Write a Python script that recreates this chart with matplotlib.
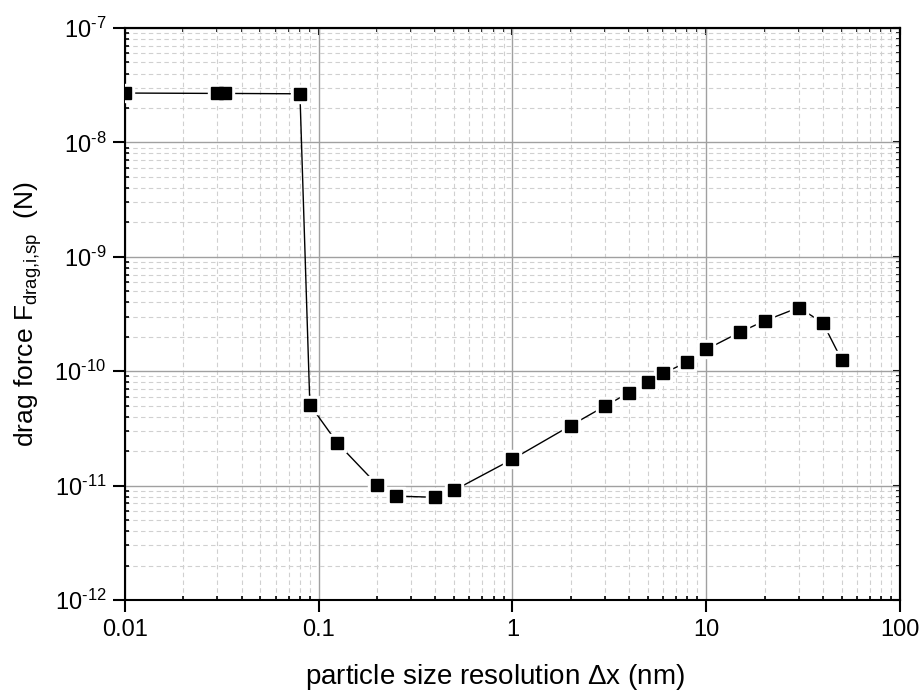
import numpy as np
import matplotlib
matplotlib.use("Agg")
import matplotlib.pyplot as plt
from matplotlib.ticker import LogLocator, NullFormatter, FixedLocator, FuncFormatter

plt.rcParams['font.family'] = ['Liberation Sans', 'DejaVu Sans']
plt.rcParams['mathtext.fontset'] = 'custom'
plt.rcParams['mathtext.rm'] = 'Liberation Sans'
plt.rcParams['mathtext.it'] = 'Liberation Sans:italic'
plt.rcParams['mathtext.default'] = 'regular'

# particle size resolution (nm) and drag force (N)
dx = [0.01, 0.03, 0.033, 0.08, 0.09, 0.125, 0.2, 0.25, 0.4, 0.5,
      1, 2, 3, 4, 5, 6, 8, 10, 15, 20, 30, 40, 50]
force = [2.7e-8, 2.68e-8, 2.68e-8, 2.66e-8, 5.1e-11, 2.35e-11, 1.02e-11, 8.1e-12, 7.9e-12, 9.1e-12,
         1.7e-11, 3.35e-11, 4.95e-11, 6.5e-11, 8.0e-11, 9.6e-11, 1.2e-10, 1.55e-10, 2.2e-10, 2.75e-10,
         3.6e-10, 2.65e-10, 1.26e-10]

x_ticks = [0.01, 0.1, 1, 10, 100]
x_tick_labels = ['0.01', '0.1', '1', '10', '100']


def pow_label(v, pos):
    e = int(round(np.log10(v)))
    return r'10$^{\text{%d}}$' % e


fig = plt.figure(figsize=(9.23, 6.93), dpi=100)
ax = fig.add_axes([0.1354, 0.1342, 0.8396, 0.8254])

ax.set_xscale('log')
ax.set_yscale('log')
ax.set_xlim(0.01, 100)
ax.set_ylim(1e-12, 1e-7)

# grid first so data sits on top
ax.grid(True, which='major', color='#a0a0a0', linewidth=1.0, linestyle='-')
ax.grid(True, which='minor', color='#d0d0d0', linewidth=0.8, linestyle=(0, (4, 3)))
ax.set_axisbelow(True)

ax.plot(dx, force, color='black', linewidth=1.0, zorder=3)
# white halo so the line stops short of each marker
ax.plot(dx, force, linestyle='none', marker='s', markersize=12.5, color='white', zorder=4)
ax.plot(dx, force, linestyle='none', marker='s', markersize=9, color='black', zorder=5)

ax.xaxis.set_major_locator(FixedLocator(x_ticks))
ax.set_xticklabels(x_tick_labels)
ax.xaxis.set_minor_locator(LogLocator(base=10, subs=np.arange(2, 10), numticks=20))
ax.xaxis.set_minor_formatter(NullFormatter())
ax.yaxis.set_major_locator(LogLocator(base=10, numticks=10))
ax.yaxis.set_major_formatter(FuncFormatter(pow_label))
ax.yaxis.set_minor_locator(LogLocator(base=10, subs=np.arange(2, 10), numticks=20))
ax.yaxis.set_minor_formatter(NullFormatter())

ax.tick_params(which='major', direction='out', length=8.5, width=1.5, labelsize=17, pad=5)
ax.tick_params(which='minor', direction='in', length=3, width=1.2)

for s in ax.spines.values():
    s.set_linewidth(1.5)

# top and right ticks point inward
top = ax.secondary_xaxis('top')
top.set_xscale('log')
top.xaxis.set_major_locator(FixedLocator(x_ticks))
top.xaxis.set_minor_locator(LogLocator(base=10, subs=np.arange(2, 10), numticks=20))
top.tick_params(which='both', direction='in', labeltop=False)
top.tick_params(which='major', length=5, width=1.5)
top.tick_params(which='minor', length=3, width=1.2)
top.spines['top'].set_linewidth(1.5)

right = ax.secondary_yaxis('right')
right.set_yscale('log')
right.yaxis.set_major_locator(LogLocator(base=10, numticks=10))
right.yaxis.set_minor_locator(LogLocator(base=10, subs=np.arange(2, 10), numticks=20))
right.tick_params(which='both', direction='in', labelright=False)
right.tick_params(which='major', length=5, width=1.5)
right.tick_params(which='minor', length=3, width=1.2)
right.spines['right'].set_linewidth(1.5)

ax.set_xlabel(r'particle size resolution $\Delta$x (nm)', fontsize=20)
ax.set_ylabel(r'drag force F$_{\text{drag,i,sp}}$  (N)', fontsize=19)
ax.xaxis.set_label_coords(0.477, -0.108)
ax.yaxis.set_label_coords(-0.104, 0.5)

fig.savefig('out.png', dpi=100)
